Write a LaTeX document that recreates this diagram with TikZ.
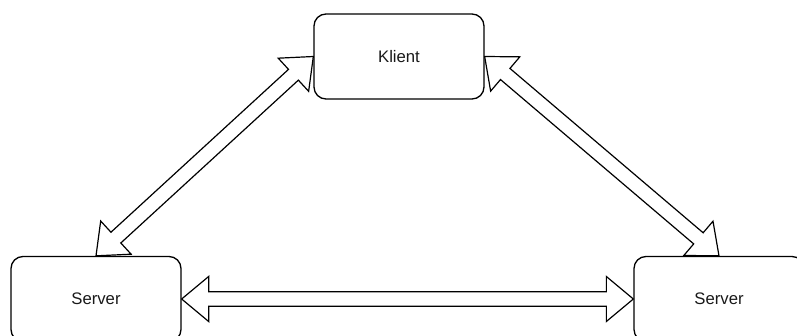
\documentclass[tikz,border=0pt]{standalone}
\usepackage{fontspec}
\setmainfont{Liberation Sans}
\usetikzlibrary{calc}

% hollow two-headed arrow from #1 to #2
\newcommand{\dblarrow}[2]{%
  \draw[blockarrow] let \p1=($(#2)-(#1)$), \n1={atan2(\y1,\x1)}, \n2={veclen(\x1,\y1)} in
    [shift={(#1)}, rotate=\n1]
    (0pt,0pt) -- (27pt,22.5pt) -- (27pt,7.3pt) -- ({\n2-27pt},7.3pt)
    -- ({\n2-27pt},22.5pt) -- ({\n2},0pt) -- ({\n2-27pt},-22.5pt)
    -- ({\n2-27pt},-7.3pt) -- (27pt,-7.3pt) -- (27pt,-22.5pt) -- cycle;}

\tikzset{
  box/.style={draw, rounded corners=12pt, line width=1.3pt,
    minimum width=170pt, minimum height=85pt, inner sep=0pt,
    font=\fontsize{16.7}{20}\selectfont, text=black!90},
  blockarrow/.style={fill=white, line width=1.2pt, line join=miter}
}

\begin{document}
\begin{tikzpicture}[x=1pt, y=-1pt]
  \useasboundingbox (0,0) rectangle (797,336);
  \clip (0,0) rectangle (797,336);

  \node[box] (klient)  at (399,56.5) {Klient};
  \node[box] (serverA) at (96,299)   {Server};
  \node[box] (serverB) at (719,299)  {Server};

  \dblarrow{serverA.north}{klient.west}
  \dblarrow{klient.east}{serverB.north}
  \dblarrow{serverA.east}{serverB.west}
\end{tikzpicture}
\end{document}
